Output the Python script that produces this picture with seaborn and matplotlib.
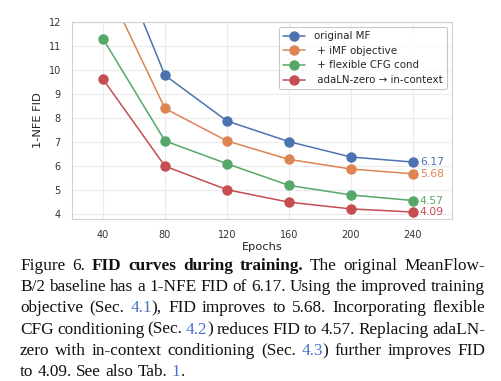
import matplotlib
matplotlib.use('Agg')
import numpy as np
import pandas as pd
import matplotlib.pyplot as plt
import seaborn as sns

# data
epochs = [40, 80, 120, 160, 200, 240]
fid_original = [16.1, 9.78, 7.88, 7.02, 6.38, 6.17]
fid_imf = [13.8, 8.40, 7.05, 6.28, 5.88, 5.68]
fid_cfg = [11.3, 7.05, 6.10, 5.20, 4.80, 4.57]
fid_incontext = [9.62, 6.00, 5.02, 4.50, 4.22, 4.09]
labels = ['original MF', ' + iMF objective', ' + flexible CFG cond', ' adaLN-zero → in-context']
yticks = [4, 5, 6, 7, 8, 9, 10, 11, 12]

all_fid = [fid_original, fid_imf, fid_cfg, fid_incontext]
df = pd.DataFrame({
    'Epochs': epochs * 4,
    '1-NFE FID': np.concatenate(all_fid),
    'setting': np.repeat(labels, len(epochs)),
})

sns.set_theme(style='whitegrid', palette='deep')
plt.rcParams['font.family'] = ['DejaVu Sans']
colors = sns.color_palette('deep', 4)

W, H = 501, 381
fig = plt.figure(figsize=(W / 100, H / 100), dpi=100)
ax = fig.add_axes([72 / W, 1 - 219 / H, (451.7 - 72) / W, (219 - 22) / H])

sns.lineplot(data=df, x='Epochs', y='1-NFE FID', hue='setting', palette=colors,
             marker='o', markersize=7.5, markeredgewidth=0, linewidth=1.1, ax=ax)

for vals, c in zip(all_fid, colors):
    ax.annotate(f'{vals[-1]:.2f}', (epochs[-1], vals[-1]), xytext=(5, 0),
                textcoords='offset points', va='center', ha='left', color=c, fontsize=7.8)

ax.set_xlim(20, 265)
ax.set_ylim(3.8, 12)
ax.set_xticks(epochs)
ax.set_yticks(yticks)
ax.tick_params(labelsize=7, pad=2, colors='#333333')
ax.set_xlabel('Epochs', fontsize=8.2, labelpad=1, color='#222222')
ax.set_ylabel('1-NFE FID', fontsize=8.2, labelpad=4, color='#222222')
ax.grid(color='#ebebeb', linewidth=0.8)
for s in ax.spines.values():
    s.set_color('#d0d0d0')
    s.set_linewidth(0.8)

leg = ax.legend(loc='upper right', fontsize=7.4, frameon=True, title=None,
                borderpad=0.4, labelspacing=0.45, handlelength=2.2)
leg.get_frame().set_edgecolor('#bbbbbb')
leg.get_frame().set_linewidth(0.8)

# caption below the chart
link = '#4a74c9'
black = '#111111'
caption = [
    [('Figure 6. ', 'normal', black), ('FID curves during training.', 'bold', black),
     (' The original MeanFlow-', 'normal', black)],
    [('B/2 baseline has a 1-NFE FID of 6.17. Using the improved training', 'normal', black)],
    [('objective (Sec. ', 'normal', black), ('4.1', 'normal', link),
     ('), FID improves to 5.68. Incorporating flexible', 'normal', black)],
    [('CFG conditioning (Sec. ', 'normal', black), ('4.2', 'normal', link),
     (') reduces FID to 4.57. Replacing adaLN-', 'normal', black)],
    [('zero with in-context conditioning (Sec. ', 'normal', black), ('4.3', 'normal', link),
     (') further improves FID', 'normal', black)],
    [('to 4.09. See also Tab. ', 'normal', black), ('1', 'normal', link), ('.', 'normal', black)],
]
baselines = [270, 291.3, 312.5, 333.7, 355, 376]
fsize = 12.4
x_left, x_right = 20, 485

fig.canvas.draw()
renderer = fig.canvas.get_renderer()


def draw_line(runs, y, justify):
    words = [[]]
    for text, wt, col in runs:
        parts = text.split(' ')
        for i, p in enumerate(parts):
            if i > 0:
                words.append([])
            if p:
                words[-1].append((p, wt, col))
    words = [w for w in words if w]
    placed = []
    widths = []
    for w in words:
        items = []
        tot = 0
        for p, wt, col in w:
            t = fig.text(0, 0, p, fontsize=fsize, fontweight=wt, color=col,
                         family='Liberation Serif', va='baseline', ha='left')
            pw = t.get_window_extent(renderer).width
            items.append((t, pw))
            tot += pw
        placed.append(items)
        widths.append(tot)
    if justify and len(words) > 1:
        gap = (x_right - x_left - sum(widths)) / (len(words) - 1)
    else:
        gap = 0.25 * fsize * 100 / 72
    x = x_left
    for items, tw in zip(placed, widths):
        xx = x
        for t, pw in items:
            t.set_position((xx / W, 1 - y / H))
            xx += pw
        x += tw + gap


for i, (runs, y) in enumerate(zip(caption, baselines)):
    draw_line(runs, y, justify=(i < len(caption) - 1))

fig.savefig('out.png', dpi=100)
